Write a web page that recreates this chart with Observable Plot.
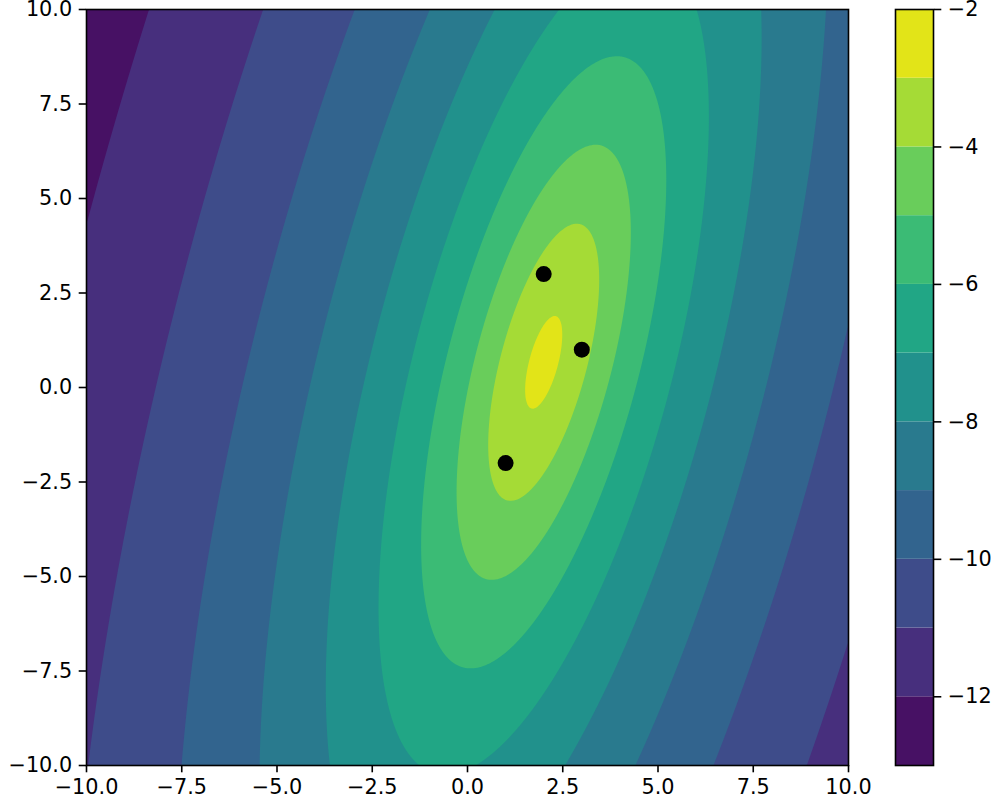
<!DOCTYPE html>
<html>
<head>
<meta charset="utf-8">
<script src="https://cdn.jsdelivr.net/npm/d3@7"></script>
<script src="https://cdn.jsdelivr.net/npm/@observablehq/plot@0.6"></script>
<style>
  html, body { margin: 0; padding: 0; background: white; }
  #wrap { position: relative; width: 997px; height: 803px; }
  #cbar { position: absolute; left: 880px; top: 0px; }
</style>
</head>
<body>
<div id="wrap"><div id="main"></div><div id="cbar"></div></div>
<script>
// ---- data ----
const pointsX = [2, 3, 1];
const pointsY = [3, 1, -2];
const levels = [-13, -12, -11, -10, -9, -8, -7, -6, -5, -4, -3, -2];
const xTicks = [-10, -7.5, -5, -2.5, 0, 2.5, 5, 7.5, 10];
const yTicks = [-10, -7.5, -5, -2.5, 0, 2.5, 5, 7.5, 10];
const cbTicks = [-12, -10, -8, -6, -4, -2];

// ---- posterior predictive (Student-t) density of the points ----
const n = pointsX.length, dim = 2;
const mx = d3.mean(pointsX), my = d3.mean(pointsY);
let sxx = 0, syy = 0, sxy = 0;
for (let i = 0; i < n; i++) {
  const dx = pointsX[i] - mx, dy = pointsY[i] - my;
  sxx += dx * dx; syy += dy * dy; sxy += dx * dy;
}
const nu = n - dim + 1;                // degrees of freedom
const fac = (n + 1) / (n * nu);        // scale factor
const Sxx = sxx * fac, Syy = syy * fac, Sxy = sxy * fac;
const det = Sxx * Syy - Sxy * Sxy;
const Ixx = Syy / det, Iyy = Sxx / det, Ixy = -Sxy / det;
function lgamma(z) { // Lanczos
  const g = 7, c = [0.99999999999980993, 676.5203681218851, -1259.1392167224028,
    771.32342877765313, -176.61502916214059, 12.507343278686905,
    -0.13857109526572012, 9.9843695780195716e-6, 1.5056327351493116e-7];
  if (z < 0.5) return Math.log(Math.PI / Math.sin(Math.PI * z)) - lgamma(1 - z);
  z -= 1; let a = c[0]; const t = z + g + 0.5;
  for (let i = 1; i < g + 2; i++) a += c[i] / (z + i);
  return 0.5 * Math.log(2 * Math.PI) + (z + 0.5) * Math.log(t) - t + Math.log(a);
}
const C = lgamma((nu + dim) / 2) - lgamma(nu / 2) - (dim / 2) * Math.log(nu * Math.PI) - 0.5 * Math.log(det);
const logpdf = (x, y) => {
  const dx = x - mx, dy = y - my;
  const q = Ixx * dx * dx + 2 * Ixy * dx * dy + Iyy * dy * dy;
  return C - (nu + dim) / 2 * Math.log(1 + q / nu);
};

const pts = pointsX.map((x, i) => ({x, y: pointsY[i]}));
const bands = levels.slice(0, -1).map((lo, i) => ({lo, hi: levels[i + 1]}));
const nb = bands.length;
// matplotlib contourf: each band coloured at its midpoint, normalised over the level range
const bandColors = bands.map((b, i) => d3.interpolateViridis((i + 0.5) / nb));
const colorScale = {type: "threshold", domain: levels.slice(1, -1), range: bandColors};
const fmt1 = d3.format(".1f");
const fmt0 = d3.format("d");
const font = {fontFamily: "DejaVu Sans", fontSize: "20.8px", background: "white", color: "black", overflow: "visible"};

const main = Plot.plot({
  width: 997, height: 803,
  marginLeft: 86, marginRight: 149, marginTop: 9, marginBottom: 38,
  style: font,
  x: {domain: [-10, 10]},
  y: {domain: [-10, 10]},
  color: colorScale,
  marks: [
    Plot.contour({fill: logpdf, x1: -10, y1: -10, x2: 10, y2: 10, thresholds: levels, stroke: "none"}),
    Plot.dot(pts, {x: "x", y: "y", r: 8, fill: "black"}),
    Plot.frame({stroke: "black", strokeWidth: 1.6}),
    Plot.axisX({ticks: xTicks, tickFormat: fmt1, tickSize: 7.3, tickPadding: 6, strokeWidth: 1.6, label: null}),
    Plot.axisY({ticks: yTicks, tickFormat: fmt1, tickSize: 7.3, tickPadding: 7, strokeWidth: 1.6, label: null})
  ]
});
document.getElementById("main").appendChild(main);

const cbar = Plot.plot({
  width: 117, height: 803,
  marginLeft: 15, marginRight: 64, marginTop: 9, marginBottom: 38,
  style: font,
  x: {domain: [0, 1], axis: null},
  y: {domain: [levels[0], levels[levels.length - 1]]},
  color: colorScale,
  marks: [
    Plot.rect(bands, {x1: 0, x2: 1, y1: "lo", y2: "hi", fill: "lo"}),
    Plot.frame({stroke: "black", strokeWidth: 1.6}),
    Plot.axisY({anchor: "right", ticks: cbTicks, tickFormat: fmt0, tickSize: 7.3, tickPadding: 7, strokeWidth: 1.6, label: null})
  ]
});
document.getElementById("cbar").appendChild(cbar);
</script>
</body>
</html>
